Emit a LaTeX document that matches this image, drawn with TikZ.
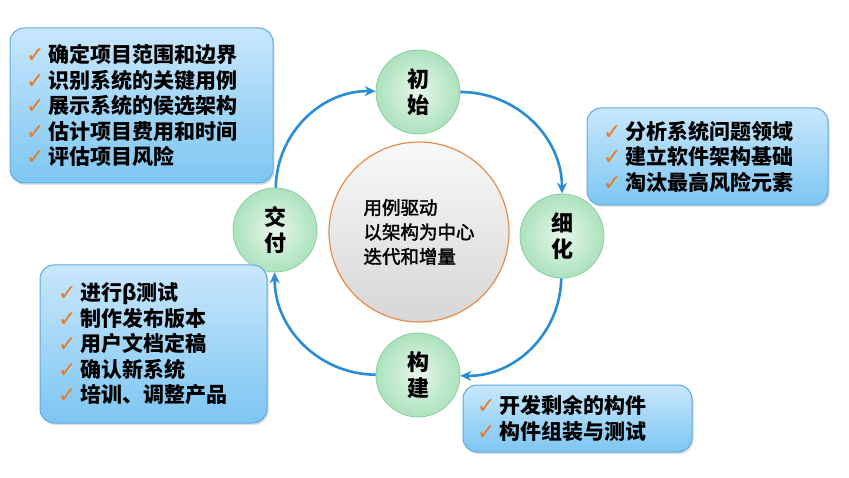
\documentclass[tikz,border=0pt]{standalone}
\usepackage{fontspec}
\setmainfont{Noto Sans CJK SC}
\newfontfamily\hubfont[FakeBold=2]{Noto Sans CJK SC}
\newfontfamily\symfont{DejaVu Sans}
\usetikzlibrary{arrows.meta, shadows}
\definecolor{ringblue}{RGB}{40,140,215}
\definecolor{tickorange}{RGB}{235,120,35}
\definecolor{phasegreen}{RGB}{172,226,188}
\definecolor{phaseedge}{RGB}{140,205,160}
\definecolor{hubedge}{RGB}{235,140,70}
\definecolor{paneltop}{RGB}{200,231,252}
\definecolor{panelbot}{RGB}{125,198,242}
\definecolor{paneledge}{RGB}{95,170,225}
\newcommand{\chk}{{\symfont\fontsize{22pt}{22pt}\selectfont\color{tickorange}✓}\hspace{4pt}}

\begin{document}
\begin{tikzpicture}[x=1pt, y=-1pt,
    phase/.style={circle, draw=phaseedge, thick, inner color=phasegreen!30!white, outer color=phasegreen, minimum size=84pt, inner sep=0pt, align=center, font=\fontsize{22pt}{26pt}\selectfont\bfseries},
    hub/.style={circle, draw=hubedge, line width=1.2pt, top color=gray!5, bottom color=gray!32, minimum size=180pt, align=left, font=\hubfont\fontsize{18.5pt}{24.5pt}\selectfont},
    panel/.style={draw=paneledge, line width=1pt, rounded corners=14pt, top color=paneltop, bottom color=panelbot, drop shadow={opacity=0.25, shadow xshift=1.5pt, shadow yshift=-2pt}, align=left, inner xsep=16pt, font=\fontsize{21pt}{25.5pt}\selectfont\bfseries},
    ring/.style={ringblue, line width=2.6pt, -{Stealth[length=11pt, width=10pt]}, bend left=45}]
  \fill[white] (0,0) rectangle (849,478);
  \useasboundingbox (0,0) rectangle (849,478);

  % centre and the four phases
  \node[hub] (hub) at (419,232) {用例驱动\\以架构为中心\\迭代和增量};
  \node[phase] (init) at (418,92) {初\\始};
  \node[phase] (refine) at (562,236) {细\\化};
  \node[phase] (build) at (418,375) {构\\建};
  \node[phase] (deliver) at (275,230) {交\\付};

  \draw[ring] (deliver) to (init);
  \draw[ring] (init) to (refine);
  \draw[ring] (refine) to (build);
  \draw[ring] (build) to (deliver);

  % what each phase does
  \node[panel, text width=231pt, minimum height=155pt] (initbox) at (141.5,105.5)
    {\chk 确定项目范围和边界\\\chk 识别系统的关键用例\\\chk 展示系统的侯选架构\\\chk 估计项目费用和时间\\\chk 评估项目风险};
  \node[panel, text width=209pt, minimum height=97pt] (refinebox) at (707.5,156.5)
    {\chk 分析系统问题领域\\\chk 建立软件架构基础\\\chk 淘汰最高风险元素};
  \node[panel, text width=191pt, minimum height=158pt, inner xsep=18pt] (deliverbox) at (153.5,344)
    {\chk 进行β测试\\\chk 制作发布版本\\\chk 用户文档定稿\\\chk 确认新系统\\\chk 培训、调整产品};
  \node[panel, text width=201pt, minimum height=67pt, inner xsep=14pt] (buildbox) at (577.5,418.5)
    {\chk 开发剩余的构件\\\chk 构件组装与测试};
\end{tikzpicture}
\end{document}
